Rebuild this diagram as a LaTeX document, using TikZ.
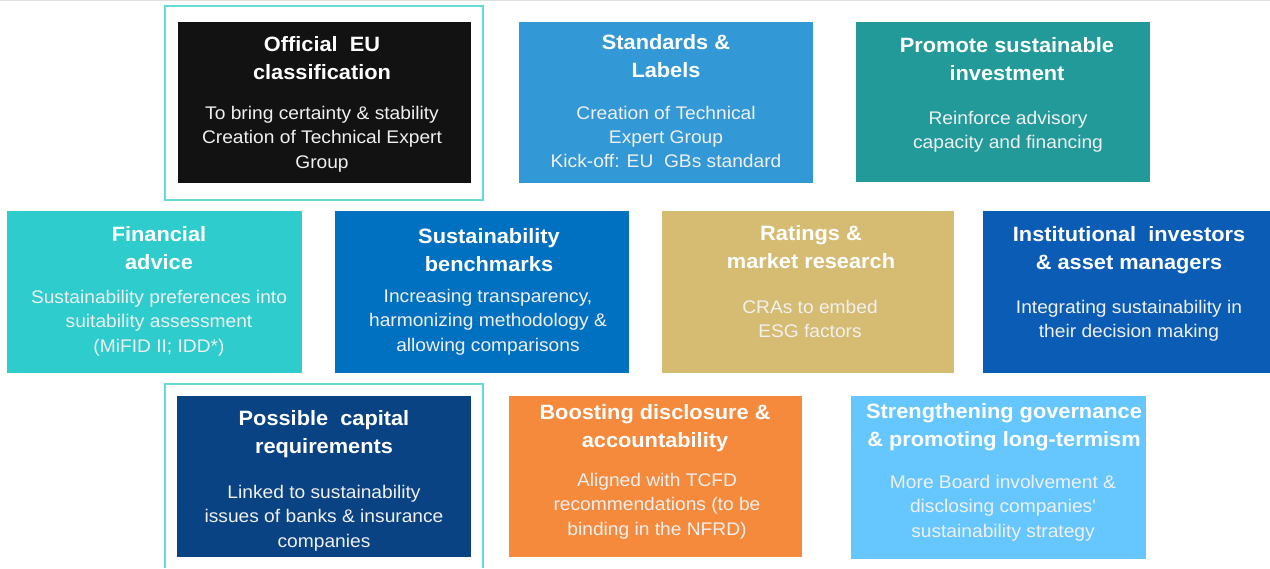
\documentclass[tikz,border=0pt]{standalone}
\usepackage{fontspec}
\setmainfont{Liberation Sans}
\newfontfamily\cardfont[FakeStretch=1.05]{Liberation Sans}
\usepackage{xcolor}
\usetikzlibrary{positioning}

\definecolor{cBlack}{HTML}{121212}
\definecolor{cStd}{HTML}{3399D6}
\definecolor{cProm}{HTML}{229A9A}
\definecolor{cFin}{HTML}{2ECCCC}
\definecolor{cBench}{HTML}{0070C0}
\definecolor{cRat}{HTML}{D6BC72}
\definecolor{cInst}{HTML}{0B5CB5}
\definecolor{cCap}{HTML}{0A4384}
\definecolor{cBoost}{HTML}{F58A3C}
\definecolor{cStr}{HTML}{66C7FF}
\definecolor{cFrame}{HTML}{66D9D9}

\begin{document}
\begin{tikzpicture}[x=0.02cm, y=-0.02cm,
    card/.style n args = {3}{draw=none, fill=#1, rectangle, inner sep=0pt,
      minimum width = #2*0.02cm, minimum height = #3*0.02cm},
    head/.style = {text=white, align=center, inner sep=0pt,
      font=\cardfont\fontsize{11.8}{15.9}\selectfont\bfseries},
    body/.style = {text=white!94!black, align=center, inner sep=0pt,
      font=\cardfont\fontsize{10.4}{13.9}\selectfont},
    frame/.style = {draw=cFrame, line width=1pt}
    ]
    \useasboundingbox (0,0) rectangle (1270,568);
    \draw[gray!25, line width=0.6pt] (0,0.5) -- (1270,0.5);

    % row 1
    \node[card={cBlack}{293}{161}] (eu) at (324.5,102.5) {};
    \node[card={cStd}{294}{161}] (std) at (666,102.5) {};
    \node[card={cProm}{294}{160}] (prom) at (1003,102) {};

    % row 2
    \node[card={cFin}{295}{162}] (fin) at (154.5,292) {};
    \node[card={cBench}{294}{162}] (bench) at (482,292) {};
    \node[card={cRat}{292}{162}] (rat) at (808,292) {};
    \node[card={cInst}{287}{162}] (inst) at (1126.5,292) {};

    % row 3
    \node[card={cCap}{294}{161}] (cap) at (324,476.5) {};
    \node[card={cBoost}{293}{161}] (boost) at (655.5,476.5) {};
    \node[card={cStr}{295}{163}] (str) at (998.5,477.5) {};

    % frames
    \draw[frame] (165,6) rectangle (483,200);
    \draw[frame] (165,568) -- (165,384) -- (483,384) -- (483,568);

    % texts
    \node[head] (euT) at (322,58) {Official\ \ EU\\classification};
    \node[body] (euB) at (322,139) {To bring certainty \& stability\\Creation of Technical Expert\\Group};

    \node[head] (stdT) at (666,56) {Standards \&\\Labels};
    \node[body] (stdB) at (666,137) {Creation of Technical\\Expert Group\\Kick-off: EU\ \ GBs standard};

    \node[head] (promT) at (1007,59) {Promote sustainable\\investment};
    \node[body] (promB) at (1008,132) {Reinforce advisory\\capacity and financing};

    \node[head] (finT) at (159,248) {Financial\\advice};
    \node[body] (finB) at (159,323) {Sustainability preferences into\\suitability assessment\\(MiFID II; IDD*)};

    \node[head] (benchT) at (489,250) {Sustainability\\benchmarks};
    \node[body] (benchB) at (488,322) {Increasing transparency,\\harmonizing methodology \&\\allowing comparisons};

    \node[head] (ratT) at (811,247) {Ratings \&\\market research};
    \node[body] (ratB) at (810,319) {CRAs to embed\\ESG factors};

    \node[head] (instT) at (1129,250) {Institutional\ \ investors\\\& asset managers};
    \node[body] (instB) at (1129,321) {Integrating sustainability in\\their decision making};

    \node[head] (capT) at (324,434) {Possible\ \ capital\\requirements};
    \node[body] (capB) at (324,518) {Linked to sustainability\\issues of banks \& insurance\\companies};

    \node[head] (boostT) at (655,428) {Boosting disclosure \&\\accountability};
    \node[body] (boostB) at (657,506) {Aligned with TCFD\\recommendations (to be\\binding in the NFRD)};

    \node[head] (strT) at (1004,427) {Strengthening governance\\\& promoting long-termism};
    \node[body] (strB) at (1003,508) {More Board involvement \&\\disclosing companies'\\sustainability strategy};
\end{tikzpicture}
\end{document}
